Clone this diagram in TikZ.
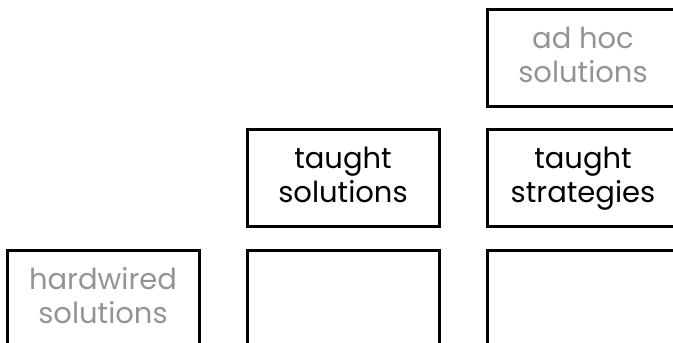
\documentclass[tikz,border=0pt]{standalone}
\usepackage{fontspec}
\setmainfont{Poppins}
\newcommand{\twolines}[2]{\strut#1\\\strut#2}
\begin{document}
\begin{tikzpicture}[x=1pt,y=1pt,
  box/.style={draw=black, line width=3pt, rectangle, minimum width=192pt, minimum height=97pt, inner sep=0pt, align=center, font=\fontsize{29}{34}\selectfont},
  faded/.style={text=black!42}]
\useasboundingbox (0,0) rectangle (673,343);
\clip (0,0) rectangle (673,343);
\node[box, faded] (adhoc) at (583,284.5) {\twolines{ad hoc}{solutions}};
\node[box] (tsol) at (343,164.5) {\twolines{taught}{solutions}};
\node[box] (tstrat) at (583,164.5) {\twolines{taught}{strategies}};
\node[box, faded] (hard) at (103,43.5) {\twolines{hardwired}{solutions}};
\node[box] (emptya) at (343,43.5) {};
\node[box] (emptyb) at (583,43.5) {};
\end{tikzpicture}
\end{document}
